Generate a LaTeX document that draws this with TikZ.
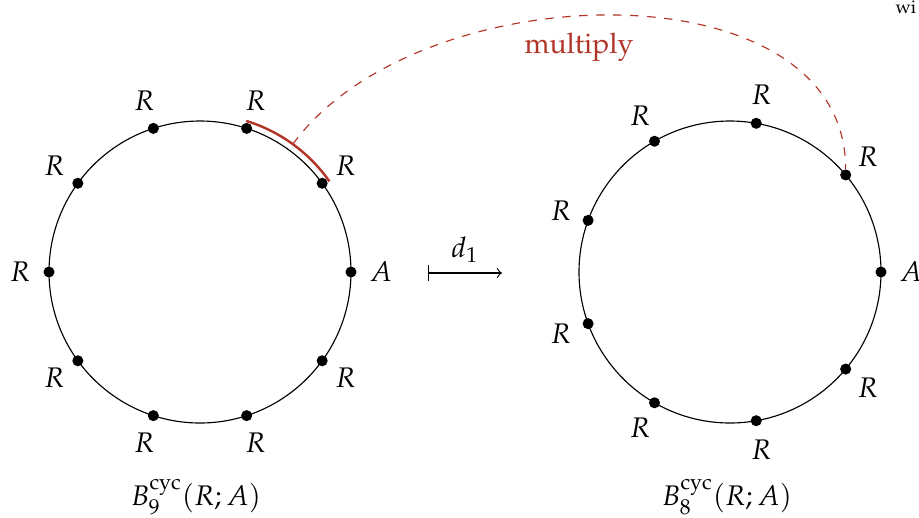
\documentclass[tikz,border=0pt]{standalone}
\usepackage[T1]{fontenc}
\usepackage{mathpazo}
\definecolor{mred}{RGB}{178,52,38}
\begin{document}
\begin{tikzpicture}[x=0.3528pt,y=0.3528pt,
  dotnode/.style={circle,fill=black,inner sep=0pt,minimum size=3.9pt},
  lab/.style={inner sep=0pt},
  ring/.style={line width=0.4pt},
  redarc/.style={mred,line width=0.85pt},
  reddash/.style={mred,dashed,line width=0.4pt}]
\useasboundingbox (0,0) rectangle (919,517);
\coordinate (L) at (200,245);
\coordinate (Rc) at (730,245);
% left circle
\draw[ring] (L) circle[radius=53.27pt];
\node[dotnode] (l0) at ([shift={(0:151)}]L) {};
\node[lab] (la0) at ([shift={(0:181)}]L) {$A$};
\foreach \i in {1,...,9}{
  \pgfmathsetmacro\a{36*\i}
  \node[dotnode] (l\i) at ([shift={(\a:151)}]L) {};
  \node[lab] (la\i) at ([shift={(\a:180)}]L) {$R$};
}
% right circle
\draw[ring] (Rc) circle[radius=53.27pt];
\node[dotnode] (r0) at ([shift={(0:151)}]Rc) {};
\node[lab] (ra0) at ([shift={(0:181)}]Rc) {$A$};
\foreach \i in {1,...,8}{
  \pgfmathsetmacro\a{40*\i}
  \node[dotnode] (r\i) at ([shift={(\a:151)}]Rc) {};
  \node[lab] (ra\i) at ([shift={(\a:180)}]Rc) {$R$};
}
% red arc and dashed connector
\draw[redarc] ([shift={(73:158)}]L) arc[start angle=73,end angle=35,radius=55.74pt];
\coordinate (m) at ([shift={(54:158)}]L);
\draw[reddash] (m) .. controls +(54:212) and +(0,212) .. (r1);
\node[mred] (mult) at (579,470) {multiply};
% map arrow
\coordinate (as) at (428,244);
\coordinate (ae) at (502,244);
\draw[|->] (as) -- (ae) node[midway,above] (d) {$d_1$};
% captions
\node (capL) at (196,20) {$B^{\mathrm{cyc}}_9(R;A)$};
\node (capR) at (727,20) {$B^{\mathrm{cyc}}_8(R;A)$};
% partial text at top right
\node[anchor=base west,inner sep=0pt,font=\fontsize{6.5}{7.5}\selectfont] (w) at (895,504) {wi};
\end{tikzpicture}
\end{document}
